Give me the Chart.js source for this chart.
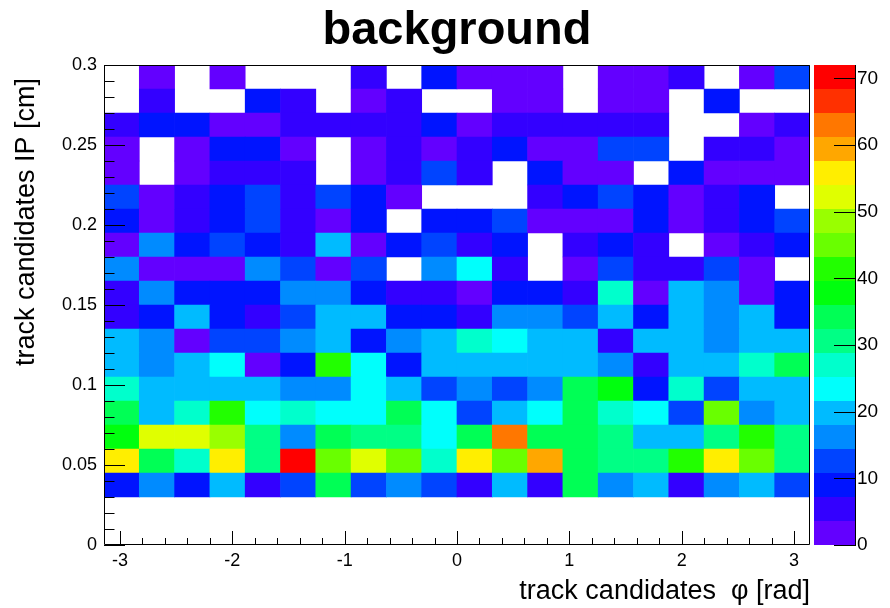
<!DOCTYPE html>
<html>
<head>
<meta charset="utf-8">
<title>background</title>
<script src="https://cdn.jsdelivr.net/npm/chart.js@4.4.1/dist/chart.umd.min.js"></script>
<style>
    html, body { margin: 0; padding: 0; background: #fff; overflow: hidden; }
    #wrap { width: 890px; height: 608px; position: relative; }
</style>
</head>
<body>
<div id="wrap"><canvas id="histChart"></canvas></div>
<script>
// binning: 20 phi bins in [-pi, pi], 20 IP bins in [0, 0.3] cm
const phiMin = -Math.PI, phiMax = Math.PI, nPhi = 20;
const ipMin = 0, ipMax = 0.3, nIP = 20;

// tick labels
const xTicks = [-3, -2, -1, 0, 1, 2, 3];
const yTicks = [0, 0.05, 0.1, 0.15, 0.2, 0.25, 0.3];
const zTicks = [0, 10, 20, 30, 40, 50, 60, 70];

// bin contents per IP row (bottom row first), 20 phi bins each
const ip00 = [0, 0, 0, 0, 0, 0, 0, 0, 0, 0, 0, 0, 0, 0, 0, 0, 0, 0, 0, 0];
const ip01 = [0, 0, 0, 0, 0, 0, 0, 0, 0, 0, 0, 0, 0, 0, 0, 0, 0, 0, 0, 0];
const ip02 = [9, 16, 9, 20, 5, 13, 34, 13, 16, 13, 5, 20, 5, 34, 16, 20, 5, 16, 20, 13];
const ip03 = [56, 34, 27, 56, 31, 72, 45, 52, 45, 27, 56, 45, 59, 34, 31, 31, 41, 56, 45, 31];
const ip04 = [38, 52, 52, 49, 31, 16, 34, 31, 31, 23, 34, 63, 34, 34, 31, 20, 20, 31, 41, 31];
const ip05 = [34, 20, 27, 41, 23, 27, 23, 23, 34, 23, 13, 20, 23, 34, 27, 23, 13, 45, 16, 20];
const ip06 = [27, 20, 20, 20, 20, 16, 16, 23, 20, 13, 16, 13, 16, 34, 38, 9, 27, 13, 20, 20];
const ip07 = [20, 16, 20, 23, 2, 9, 41, 23, 9, 20, 20, 20, 20, 20, 16, 5, 20, 20, 27, 34];
const ip08 = [20, 16, 2, 13, 13, 16, 20, 9, 16, 20, 27, 23, 20, 20, 5, 20, 20, 16, 20, 20];
const ip09 = [5, 9, 20, 9, 5, 13, 20, 20, 9, 9, 5, 16, 16, 13, 20, 9, 20, 16, 20, 9];
const ip10 = [5, 16, 9, 9, 9, 16, 16, 9, 5, 5, 2, 9, 9, 5, 27, 2, 20, 16, 2, 9];
const ip11 = [16, 2, 2, 2, 16, 13, 2, 13, 0, 16, 23, 5, 0, 2, 13, 5, 5, 13, 2, 0];
const ip12 = [2, 16, 9, 13, 9, 5, 20, 2, 9, 13, 5, 9, 0, 5, 9, 5, 0, 2, 5, 9];
const ip13 = [9, 2, 5, 9, 13, 5, 2, 9, 0, 9, 9, 13, 2, 2, 2, 9, 2, 5, 9, 13];
const ip14 = [13, 2, 5, 9, 13, 5, 13, 9, 2, 0, 0, 0, 5, 9, 13, 9, 2, 5, 9, 0];
const ip15 = [2, 0, 2, 5, 5, 5, 0, 2, 5, 13, 5, 0, 9, 2, 2, 0, 9, 2, 2, 2];
const ip16 = [2, 0, 2, 9, 9, 2, 0, 2, 5, 2, 5, 9, 2, 2, 13, 13, 0, 5, 5, 2];
const ip17 = [5, 9, 9, 2, 2, 5, 5, 5, 5, 9, 2, 5, 5, 5, 5, 5, 0, 0, 2, 5];
const ip18 = [0, 5, 0, 0, 9, 5, 0, 2, 5, 0, 0, 2, 2, 0, 2, 2, 0, 9, 0, 0];
const ip19 = [0, 2, 0, 2, 0, 0, 0, 5, 0, 9, 2, 2, 2, 0, 2, 2, 5, 0, 2, 13];

const rows = [ip00, ip01, ip02, ip03, ip04, ip05, ip06, ip07, ip08, ip09,
              ip10, ip11, ip12, ip13, ip14, ip15, ip16, ip17, ip18, ip19];

const zMax = Math.max(...rows.flat());
const nLevels = 20;
const FONT = "'Liberation Sans', Arial, Helvetica, sans-serif";
const yTitle = 'track candidates IP [cm]';

// ROOT "pretty" palette: 50 hues violet -> red, picked per contour level
function levelColor(level) {
    const idx = Math.floor((level + 0.99) * 50 / nLevels);
    const hue = 280 - (idx + 1) * 5.6;
    return `hsl(${hue}, 100%, 50%)`;
}

function cellColor(v) {
    if (v <= 0) return 'rgba(0,0,0,0)';
    const level = Math.min(nLevels - 1, Math.floor(v / (zMax / nLevels)));
    return levelColor(level);
}

const phiW = (phiMax - phiMin) / nPhi;
const ipW = (ipMax - ipMin) / nIP;

const datasets = rows.map((row, j) => ({
    label: 'IP row ' + j,
    data: row.map((c, i) => ({
        x: phiMin + (i + 0.5) * phiW,
        y: [ipMin + j * ipW, ipMin + (j + 1) * ipW],
        count: c
    })),
    backgroundColor: row.map(cellColor),
    borderWidth: 0,
    grouped: false,
    barPercentage: 1,
    categoryPercentage: 1
}));

// frame, inward ticks, palette bar and y title, ROOT style
const rootAxes = {
    id: 'rootAxes',
    afterDatasetsDraw(chart) {
        const { ctx, chartArea: a, scales: { x, y, z } } = chart;
        ctx.save();

        // palette
        const barL = a.right + 4, barR = a.right + 45;
        for (let k = 0; k < nLevels; k++) {
            const y0 = Math.round(z.getPixelForValue(k * zMax / nLevels));
            const y1 = Math.round(z.getPixelForValue((k + 1) * zMax / nLevels));
            ctx.fillStyle = levelColor(k);
            ctx.fillRect(barL, y1, barR - barL, y0 - y1);
        }

        ctx.strokeStyle = '#000';
        ctx.lineWidth = 1;
        ctx.beginPath();
        ctx.moveTo(barR + 0.5, a.top);
        ctx.lineTo(barR + 0.5, a.bottom);
        zTicks.forEach(v => {
            const py = Math.round(z.getPixelForValue(v)) + 0.5;
            ctx.moveTo(barR - 21, py);
            ctx.lineTo(barR + 1, py);
        });

        // frame
        ctx.rect(Math.round(a.left) + 0.5, Math.round(a.top) + 0.5,
                 Math.round(a.right - a.left) - 1, Math.round(a.bottom - a.top) - 1);

        // x ticks (major every 1, minor every 0.2)
        for (let m = -16; m <= 16; m++) {
            const v = m * 0.2;
            if (v < phiMin || v > phiMax) continue;
            const px = Math.round(x.getPixelForValue(v)) + 0.5;
            const len = m % 5 === 0 ? 14 : 7;
            ctx.moveTo(px, a.bottom);
            ctx.lineTo(px, a.bottom - len);
        }

        // y ticks (major every 0.05, minor every 0.01)
        for (let m = 0; m <= 30; m++) {
            const py = Math.round(y.getPixelForValue(m * 0.01)) + 0.5;
            const len = m % 5 === 0 ? 21 : 10.5;
            ctx.moveTo(a.left, py);
            ctx.lineTo(a.left + len, py);
        }
        ctx.stroke();

        // y axis title, end a little below the frame top like ROOT does
        ctx.translate(27, a.top + 13);
        ctx.rotate(-Math.PI / 2);
        ctx.fillStyle = '#000';
        ctx.font = '27px ' + FONT;
        ctx.textAlign = 'right';
        ctx.textBaseline = 'middle';
        ctx.fillText(yTitle, 0, 0);
        ctx.restore();
    }
};

Chart.defaults.font.family = FONT;
Chart.defaults.color = '#000';

new Chart(document.getElementById('histChart'), {
    type: 'bar',
    data: { datasets },
    options: {
        responsive: true,
        maintainAspectRatio: false,
        animation: false,
        events: [],
        layout: { padding: 0 },
        plugins: {
            legend: { display: false },
            tooltip: { enabled: false },
            title: {
                display: true,
                text: 'background',
                fullSize: false,
                color: '#000',
                font: { size: 47, weight: 'bold', family: FONT },
                padding: { top: 2.5, bottom: 6.1 }
            }
        },
        scales: {
            x: {
                type: 'linear',
                min: phiMin,
                max: phiMax,
                offset: false,
                grid: { display: false, drawTicks: false },
                border: { display: false },
                afterBuildTicks: s => { s.ticks = xTicks.map(v => ({ value: v })); },
                afterFit: s => { s.height = 63; },
                ticks: {
                    autoSkip: false,
                    maxRotation: 0,
                    padding: 5,
                    font: { size: 18 },
                    callback: v => String(v)
                },
                title: {
                    display: true,
                    text: 'track candidates  \u03c6 [rad]',
                    align: 'end',
                    font: { size: 27 },
                    padding: { top: 0, bottom: 0 }
                }
            },
            y: {
                type: 'linear',
                min: ipMin,
                max: ipMax,
                grid: { display: false, drawTicks: false },
                border: { display: false },
                afterBuildTicks: s => { s.ticks = yTicks.map(v => ({ value: v })); },
                afterFit: s => { s.width = 104; },
                ticks: {
                    autoSkip: false,
                    padding: 7,
                    font: { size: 18 },
                    callback: v => String(v)
                }
            },
            z: {
                type: 'linear',
                position: 'right',
                min: 0,
                max: zMax,
                grid: { display: false, drawTicks: false },
                border: { display: false },
                afterBuildTicks: s => { s.ticks = zTicks.map(v => ({ value: v })); },
                afterFit: s => { s.width = 80; },
                ticks: {
                    autoSkip: false,
                    padding: 47,
                    font: { size: 19 },
                    callback: v => String(v)
                }
            }
        }
    },
    plugins: [rootAxes]
});
</script>
</body>
</html>
